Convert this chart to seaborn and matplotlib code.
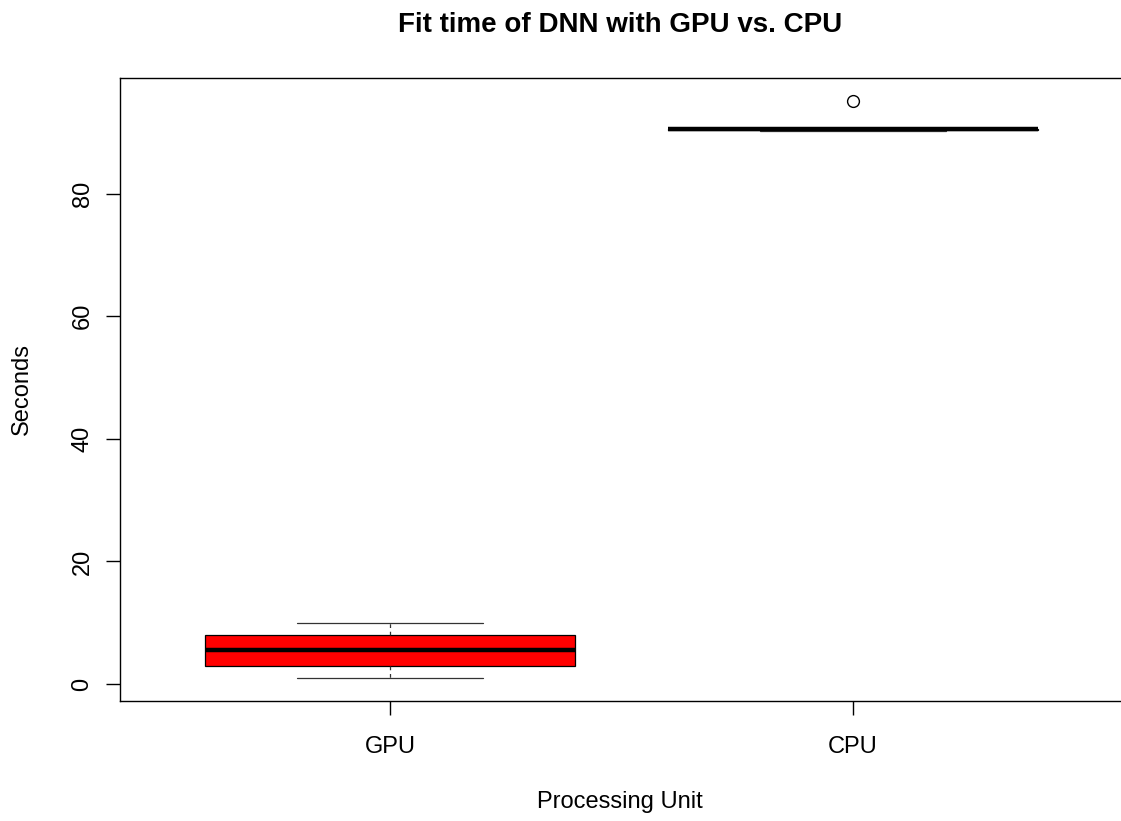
import matplotlib
matplotlib.use("Agg")
import matplotlib.pyplot as plt
import seaborn as sns
import pandas as pd

# ---- data ----
units = ["GPU", "CPU"]
gpu_seconds = [1, 2, 3, 4, 5.5, 7, 8, 9, 10]
cpu_seconds = [90.2, 90.3, 90.4, 90.5, 90.5, 90.6, 90.6, 90.7, 95.1]
box_colors = ["red", "white"]
y_ticks = [0, 20, 40, 60, 80]
title = "Fit time of DNN with GPU vs. CPU"
x_label = "Processing Unit"
y_label = "Seconds"

df = pd.DataFrame({
    "unit": ["GPU"] * len(gpu_seconds) + ["CPU"] * len(cpu_seconds),
    "seconds": gpu_seconds + cpu_seconds,
})

sns.set_style("white")
plt.rcParams["font.family"] = ["Liberation Sans", "DejaVu Sans"]

W, H = 1121, 821
fig = plt.figure(figsize=(W / 100, H / 100), dpi=100)
fig.patch.set_facecolor("white")
ax = fig.add_axes([120 / W, (H - 701) / H, 1003 / W, 623 / H])

sns.boxplot(
    data=df, x="unit", y="seconds", hue="unit", order=units, hue_order=units,
    palette=box_colors, saturation=1, width=0.8, linecolor="black",
    linewidth=0.9, whis=1.5, legend=False, ax=ax,
    medianprops={"linewidth": 3.2, "color": "black", "solid_capstyle": "butt"},
    whiskerprops={"linestyle": (0, (3, 3)), "linewidth": 0.9, "color": "#333333"},
    capprops={"linewidth": 0.9, "color": "#333333"},
    flierprops={"marker": "o", "markerfacecolor": "none",
                "markeredgecolor": "black", "markersize": 8.5,
                "markeredgewidth": 1.0},
)

ax.set_xlim(-0.583, 1.583)
ax.set_ylim(-2.76, 98.86)
ax.set_yticks(y_ticks)
ax.set_yticklabels([str(t) for t in y_ticks])
ax.set_xlabel("")
ax.set_ylabel("")

for side in ["left", "bottom", "top", "right"]:
    ax.spines[side].set_visible(True)
    ax.spines[side].set_color("black")
    ax.spines[side].set_linewidth(1.0)

ax.tick_params(axis="both", direction="out", length=10, width=1.0,
               color="black", labelsize=17, labelcolor="black")
ax.tick_params(axis="x", pad=15, bottom=True)
ax.tick_params(axis="y", pad=9, left=True)
for lab in ax.get_yticklabels():
    lab.set_rotation(90)
    lab.set_va("center")
    lab.set_ha("right")

fig.text(620 / W, 1 - 32.3 / H, title, ha="center", va="baseline",
         fontsize=20, fontweight="bold", color="black")
fig.text(620 / W, 1 - 808 / H, x_label, ha="center", va="baseline",
         fontsize=17, color="black")
fig.text(22 / W, 1 - 389 / H, y_label, ha="center", va="center",
         rotation=90, fontsize=17, color="black")

fig.savefig("out.png", dpi=100, facecolor="white")
